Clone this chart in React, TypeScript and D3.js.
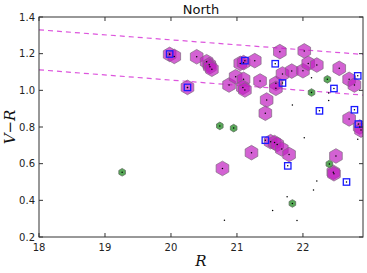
import React, { useRef, useEffect } from "react";
import * as d3 from "d3";

// purple hexagons [R, V-R]
const hexR = [19.98, 20.05, 20.39, 20.54, 20.58, 20.59, 20.62, 20.25, 20.88, 20.98, 21.05, 21.1, 21.1, 21.09, 21.12, 21.27, 21.35, 21.45, 21.43, 21.59, 21.59, 21.65, 21.69, 21.83, 22.0, 22.02, 22.08, 22.21, 22.55, 22.7, 22.78, 22.7, 22.86, 22.88, 21.22, 20.78, 21.51, 21.57, 21.61, 21.68, 21.79, 22.5, 22.46, 22.47];
const hexVR = [1.196, 1.185, 1.183, 1.156, 1.14, 1.129, 1.115, 1.016, 1.029, 1.074, 1.147, 1.151, 1.06, 1.016, 1.002, 1.162, 1.051, 0.947, 0.875, 1.038, 1.011, 1.211, 1.089, 1.105, 1.107, 1.215, 1.147, 1.138, 1.12, 1.06, 1.029, 0.844, 0.8, 0.783, 0.66, 0.574, 0.72, 0.715, 0.705, 0.68, 0.65, 0.642, 0.553, 0.545];

// green hexagons
const greenR = [19.26, 20.74, 20.95, 21.84, 22.13, 22.37, 22.4];
const greenVR = [0.553, 0.806, 0.794, 0.383, 0.988, 1.06, 0.598];

// blue open squares
const sqR = [19.98, 20.25, 21.12, 21.58, 21.69, 22.47, 22.25, 22.83, 22.78, 22.84, 21.43, 21.77, 22.66];
const sqVR = [1.198, 1.016, 1.162, 1.145, 1.04, 1.01, 0.888, 1.079, 0.894, 0.816, 0.728, 0.588, 0.5];

// lone black points
const dotR = [20.81, 21.54, 21.76, 21.91, 22.21, 22.16, 22.02, 22.83, 21.84, 22.13, 22.39, 22.39];
const dotVR = [0.291, 0.344, 0.42, 0.29, 0.505, 0.457, 0.742, 0.733, 0.92, 1.068, 0.945, 0.985];

// dashed limit lines: [R0, R1], [VR0, VR1]
const lineR = [18, 22.91];
const upperVR = [1.33, 1.196];
const lowerVR = [1.112, 0.974];

const xTicks = [18, 19, 20, 21, 22];
const yTicks = [0.2, 0.4, 0.6, 0.8, 1.0, 1.2, 1.4];

const hexPath = (cx: number, cy: number, r: number) => {
	const pts = d3.range(6).map((i) => {
		const a = (Math.PI / 3) * i - Math.PI / 2;
		return [cx + r * Math.cos(a), cy + r * Math.sin(a)];
	});
	return "M" + pts.map((p) => p.join(",")).join("L") + "Z";
};

const App = () => {
	const svgRef = useRef<SVGSVGElement | null>(null);

	useEffect(() => {
		if (!svgRef.current) return;
		const width = 367;
		const height = 273;
		const svg = d3.select(svgRef.current);
		svg.attr("width", width).attr("height", height);
		svg.selectAll("*").remove();

		const left = 39, right = 363, top = 17, bottom = 237;
		const x = d3.scaleLinear().domain([18, 22.91]).range([left, right]);
		const y = d3.scaleLinear().domain([0.2, 1.4]).range([bottom, top]);

		svg.append("rect").attr("width", width).attr("height", height).attr("fill", "#fff");

		svg.append("defs").append("clipPath").attr("id", "plotClip")
			.append("rect").attr("x", left).attr("y", top)
			.attr("width", right - left).attr("height", bottom - top);

		const g = svg.append("g").attr("clip-path", "url(#plotClip)");

		// dashed lines
		[upperVR, lowerVR].forEach((vr) => {
			const line = d3.line<number>().x((d, i) => x(lineR[i])).y((d) => y(d));
			g.append("path")
				.attr("d", line(vr)!)
				.attr("fill", "none")
				.attr("stroke", "#dd55dd")
				.attr("stroke-width", 1.2)
				.attr("stroke-dasharray", "5,4");
		});

		// purple hexagons
		hexR.forEach((r, i) => {
			g.append("path")
				.attr("d", hexPath(x(r), y(hexVR[i]), 7.3))
				.attr("fill", "#c020c0")
				.attr("fill-opacity", 0.7)
				.attr("stroke", "#806a80")
				.attr("stroke-opacity", 0.7)
				.attr("stroke-width", 1);
		});

		// green hexagons
		greenR.forEach((r, i) => {
			g.append("path")
				.attr("d", hexPath(x(r), y(greenVR[i]), 3.8))
				.attr("fill", "#3a9a3a")
				.attr("fill-opacity", 0.85)
				.attr("stroke", "#607060")
				.attr("stroke-width", 0.8);
		});

		// blue squares
		sqR.forEach((r, i) => {
			g.append("rect")
				.attr("x", x(r) - 3.2)
				.attr("y", y(sqVR[i]) - 3.2)
				.attr("width", 6.4)
				.attr("height", 6.4)
				.attr("fill", "none")
				.attr("stroke", "#1a1aff")
				.attr("stroke-width", 1.3);
		});

		// black centre dots
		const allR = [...hexR, ...greenR, ...sqR, ...dotR];
		const allVR = [...hexVR, ...greenVR, ...sqVR, ...dotVR];
		allR.forEach((r, i) => {
			g.append("circle")
				.attr("cx", x(r))
				.attr("cy", y(allVR[i]))
				.attr("r", 0.75)
				.attr("fill", "#000");
		});

		// frame
		svg.append("rect")
			.attr("x", left).attr("y", top)
			.attr("width", right - left).attr("height", bottom - top)
			.attr("fill", "none").attr("stroke", "#333").attr("stroke-width", 1);

		const tickLen = 4;
		const font = "'DejaVu Sans', sans-serif";
		xTicks.forEach((t) => {
			const px = x(t);
			svg.append("line").attr("x1", px).attr("x2", px).attr("y1", bottom).attr("y2", bottom - tickLen).attr("stroke", "#333");
			svg.append("line").attr("x1", px).attr("x2", px).attr("y1", top).attr("y2", top + tickLen).attr("stroke", "#333");
			svg.append("text")
				.attr("x", px).attr("y", bottom + 14)
				.attr("text-anchor", "middle")
				.style("font-family", font).style("font-size", "10px")
				.attr("fill", "#222")
				.text(t);
		});
		yTicks.forEach((t) => {
			const py = y(t);
			svg.append("line").attr("x1", left).attr("x2", left + tickLen).attr("y1", py).attr("y2", py).attr("stroke", "#333");
			svg.append("line").attr("x1", right).attr("x2", right - tickLen).attr("y1", py).attr("y2", py).attr("stroke", "#333");
			svg.append("text")
				.attr("x", left - 4).attr("y", py + 3.5)
				.attr("text-anchor", "end")
				.style("font-family", font).style("font-size", "10px")
				.attr("fill", "#222")
				.text(t.toFixed(1));
		});

		svg.append("text")
			.attr("x", (left + right) / 2).attr("y", 14)
			.attr("text-anchor", "middle")
			.style("font-family", font).style("font-size", "13px")
			.attr("fill", "#111")
			.text("North");

		svg.append("text")
			.attr("x", (left + right) / 2).attr("y", 266)
			.attr("text-anchor", "middle")
			.style("font-family", "'DejaVu Serif', serif").style("font-size", "15px")
			.style("font-style", "italic")
			.attr("fill", "#111")
			.text("R");

		svg.append("text")
			.attr("transform", `translate(15,${(top + bottom) / 2}) rotate(-90)`)
			.attr("text-anchor", "middle")
			.style("font-family", "'DejaVu Serif', serif").style("font-size", "15px")
			.style("font-style", "italic")
			.attr("fill", "#111")
			.text("V\u2212R");
	}, []);

	return (
		<div>
			<svg ref={svgRef} style={{ position: "absolute", left: 0, top: 0 }}></svg>
		</div>
	);
};

export default App;
